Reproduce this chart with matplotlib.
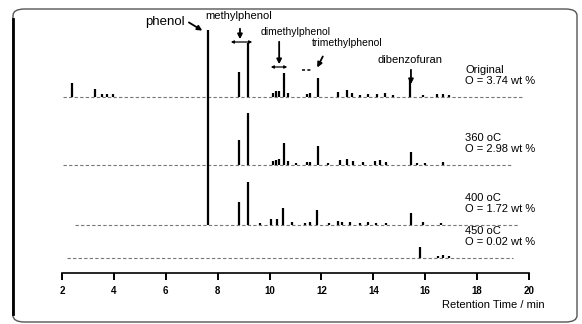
import matplotlib
matplotlib.use("Agg")
import matplotlib.pyplot as plt
from matplotlib.patches import FancyBboxPatch
from matplotlib.lines import Line2D

plt.rcParams['font.family'] = ['Liberation Sans', 'DejaVu Sans']

# Данные: положения пиков (мин) и их высоты для каждой пробы
SAMPLES = ["Original", "360 oC", "400 oC", "450 oC"]
O_CONTENT = ["O = 3.74 wt %", "O = 2.98 wt %", "O = 1.72 wt %", "O = 0.02 wt %"]
OFFSETS = [176, 108, 48, 15]
BASE_RANGE = [(2.05, 19.8), (2.05, 19.3), (2.5, 19.6), (2.2, 19.4)]

orig_rt = [2.38, 3.27, 3.55, 3.75, 3.95, 7.63, 8.82, 9.17, 10.13, 10.25, 10.35, 10.56, 10.7,
           11.45, 11.56, 11.87, 12.64, 12.99, 13.18, 13.5, 13.8, 14.14, 14.45, 14.76, 15.42,
           15.9, 16.46, 16.7, 16.9]
orig_h = [14, 8, 3, 3, 3, 67, 25, 54, 4, 6, 6, 24, 4,
          3, 4, 19, 5, 7, 4, 2, 3, 3, 4, 2, 17,
          2, 3, 3, 2]

t360_rt = [7.63, 8.82, 9.17, 10.13, 10.25, 10.35, 10.56, 10.7, 11.0, 11.45, 11.56, 11.87,
           12.25, 12.7, 12.99, 13.2, 13.6, 14.07, 14.26, 14.5, 15.45, 15.7, 16.0, 16.7]
t360_h = [68, 25, 52, 4, 5, 6, 22, 4, 2, 3, 3, 19,
          2, 5, 6, 4, 3, 4, 5, 3, 13, 2, 2, 3]

t400_rt = [7.63, 8.82, 9.17, 9.63, 10.06, 10.29, 10.52, 10.87, 11.37, 11.56, 11.83,
           12.3, 12.65, 12.8, 13.1, 13.5, 13.8, 14.1, 14.5, 15.45, 15.9, 16.6]
t400_h = [60, 23, 43, 2, 6, 6, 17, 3, 2, 3, 15,
          2, 4, 3, 3, 2, 3, 2, 2, 12, 3, 2]

t450_rt = [15.8, 16.5, 16.7, 16.9]
t450_h = [11, 2, 3, 2]

PEAKS = [(orig_rt, orig_h), (t360_rt, t360_h), (t400_rt, t400_h), (t450_rt, t450_h)]
XTICKS = [2, 4, 6, 8, 10, 12, 14, 16, 18, 20]

fig = plt.figure(figsize=(5.82, 3.24), dpi=100)
ax = fig.add_axes([62 / 582, 51 / 324, 467 / 582, 263 / 324])

for (rt, h), off, (x0, x1) in zip(PEAKS, OFFSETS, BASE_RANGE):
    ax.hlines(off, x0, x1, color='#777777', lw=0.8, linestyles=(0, (3, 2)))
    ax.vlines(rt, off, [off + v for v in h], color='black', lw=1.6)

# подписи проб справа
for name, oc, off in zip(SAMPLES, O_CONTENT, OFFSETS):
    ax.text(17.54, off + 27, name, fontsize=8, va='center', ha='left')
    ax.text(17.54, off + 16, oc, fontsize=8, va='center', ha='left')

arrow = dict(arrowstyle='-|>', color='black', lw=1.3, mutation_scale=7)
bar = dict(arrowstyle='<|-|>', color='black', lw=0.9, mutation_scale=4)

# phenol
ax.text(6.75, 251, "phenol", fontsize=9.5, ha='right', va='center')
ax.annotate("", xy=(7.5, 241), xytext=(6.8, 252), arrowprops=arrow)
# methylphenol
ax.text(8.8, 257, "methylphenol", fontsize=8, ha='center', va='center')
ax.annotate("", xy=(8.86, 231), xytext=(8.86, 247), arrowprops=arrow)
ax.annotate("", xy=(8.4, 231), xytext=(9.44, 231), arrowprops=bar)
# dimethylphenol
ax.text(11.0, 241, "dimethylphenol", fontsize=7.5, ha='center', va='center')
ax.annotate("", xy=(10.37, 206), xytext=(10.37, 234), arrowprops=arrow)
ax.annotate("", xy=(9.94, 206), xytext=(10.79, 206), arrowprops=bar)
# trimethylphenol
ax.text(13.0, 230, "trimethylphenol", fontsize=7.5, ha='center', va='center')
ax.annotate("", xy=(11.79, 203), xytext=(12.1, 219), arrowprops=arrow)
ax.hlines(203, 11.25, 11.64, color='black', lw=1.1, linestyles=(0, (2, 1.5)))
# dibenzofuran
ax.text(15.42, 213, "dibenzofuran", fontsize=8, ha='center', va='center')
ax.annotate("", xy=(15.45, 186), xytext=(15.45, 206), arrowprops=arrow)

ax.set_xlim(2, 20)
ax.set_ylim(0, 263)
ax.set_xticks(XTICKS)
ax.set_xticklabels([str(t) for t in XTICKS], fontsize=7, fontweight='bold')
ax.set_yticks([])
for s in ['top', 'right', 'left']:
    ax.spines[s].set_visible(False)
ax.spines['bottom'].set_linewidth(1.2)
ax.tick_params(axis='x', direction='out', length=5, width=1.4, pad=4)

fig.text(545 / 582, 1 - 305 / 324, "Retention Time / min", fontsize=8, ha='right', va='center')

# рамка скана
frame = FancyBboxPatch((13 / 582, 2 / 324), 564 / 582, 313 / 324,
                       boxstyle='round,pad=0,rounding_size=0.02',
                       transform=fig.transFigure, fill=False, ec='#555555', lw=1.0)
fig.patches.append(frame)
fig.lines.append(Line2D([13 / 582, 13 / 582], [0.03, 0.94], transform=fig.transFigure,
                        color='black', lw=2))

fig.savefig("out.png", dpi=100)
